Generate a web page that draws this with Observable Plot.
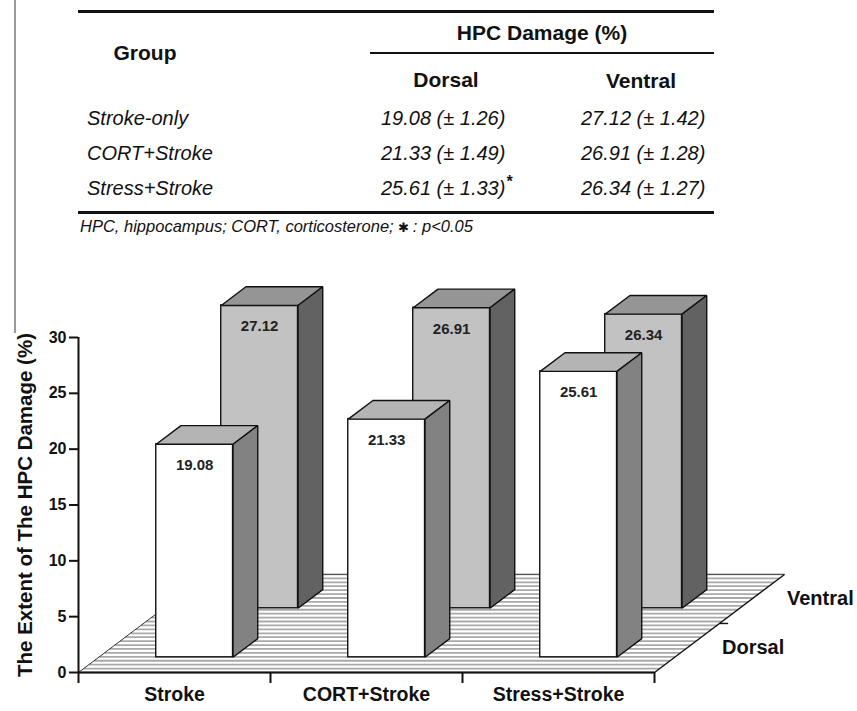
<!DOCTYPE html>
<html>
<head>
<meta charset="utf-8">
<script src="https://cdn.jsdelivr.net/npm/d3@7"></script>
<script src="https://cdn.jsdelivr.net/npm/@observablehq/plot@0.6"></script>
<style>
  body { margin: 0; background: #fff; font-family: "Liberation Sans", Arial, sans-serif; }
  #page { position: relative; width: 857px; height: 711px; overflow: hidden; }
  #table { position: relative; width: 857px; height: 250px; }
  #chart svg { display: block; }
  .t { position: absolute; white-space: nowrap; line-height: 1; color: #111; }
  .c { transform: translate(-50%, -50%); }
  .l { transform: translateY(-50%); }
  .head { font-weight: bold; font-size: 21px; }
  .cell { font-style: italic; font-size: 20px; }
  .note { font-style: italic; font-size: 16.5px; }
  .rule { position: absolute; background: #111; }
  #edge { position: absolute; left: 14px; top: 0; width: 2px; height: 333px; background: #9a9a9a; }
</style>
</head>
<body>
<div id="page">
  <div id="edge"></div>
  <div id="table"></div>
  <div id="chart"></div>
</div>
<script>
// Hippocampal (HPC) damage per group, mean (± SEM), in percent
const groups = ["Stroke", "CORT+Stroke", "Stress+Stroke"];
const tableGroups = ["Stroke-only", "CORT+Stroke", "Stress+Stroke"];
const regions = ["Dorsal", "Ventral"];
const dorsal = [19.08, 21.33, 25.61];
const dorsalSE = [1.26, 1.49, 1.33];
const ventral = [27.12, 26.91, 26.34];
const ventralSE = [1.42, 1.28, 1.27];
const dorsalSignificant = [false, false, true];
const ventralSignificant = [false, false, false];
const yTicks = [0, 5, 10, 15, 20, 25, 30];
const groupTicks = [0, 1, 2, 3];
const footnote = "HPC, hippocampus; CORT, corticosterone; ";
const footnoteSig = ": p<0.05";

// ---------- summary table ----------
const table = document.getElementById("table");
function put(text, x, y, cls, extra) {
  const el = document.createElement("div");
  el.className = "t " + cls;
  el.style.left = x + "px";
  el.style.top = y + "px";
  el.textContent = text;
  if (extra) el.appendChild(extra);
  table.appendChild(el);
  return el;
}
function rule(x, y, w, h) {
  const el = document.createElement("div");
  el.className = "rule";
  Object.assign(el.style, {left: x + "px", top: y + "px", width: w + "px", height: h + "px"});
  table.appendChild(el);
}
function star() {
  const s = document.createElement("span");
  s.textContent = "*";
  s.style.cssText = "font-weight:bold;font-style:normal;font-size:16px;position:relative;top:-8px;margin-left:1px;";
  return s;
}
const fmt = (v, se) => `${v.toFixed(2)} (± ${se.toFixed(2)})`;

rule(78, 10, 636, 3);
rule(370, 52, 344, 2);
rule(78, 211, 636, 3);
put("Group", 145, 52, "head c");
put("HPC Damage (%)", 542, 32, "head c");
put(regions[0], 446, 79, "head c");
put(regions[1], 641, 80, "head c");
const rowY = [118, 153, 188];
tableGroups.forEach((g, i) => {
  put(g, 87, rowY[i], "cell l");
  put(fmt(dorsal[i], dorsalSE[i]), 381, rowY[i], "cell l", dorsalSignificant[i] ? star() : null);
  put(fmt(ventral[i], ventralSE[i]), 581, rowY[i], "cell l", ventralSignificant[i] ? star() : null);
});
const sig = document.createElement("span");
sig.textContent = "✱ ";
sig.style.cssText = "font-style:normal;font-size:13px;";
const note = put(footnote, 80, 226, "note l", sig);
note.appendChild(document.createTextNode(footnoteSig));

// ---------- 3-D bar chart ----------
const DX = 0.677, DY = 8.78;      // floor depth vector (group units, % units)
const BAR_W = 0.4, BAR_D = 0.19;  // bar width (groups) and depth (fraction of floor)
const bdx = BAR_D * DX, bdy = BAR_D * DY;

const rows = [
  {name: "Ventral", values: ventral, zc: 0.75, front: "#c2c2c2", top: "#959595", side: "#626262"},
  {name: "Dorsal", values: dorsal, zc: 0.25, front: "#ffffff", top: "#b4b4b4", side: "#828282"}
];

function faces(row) {
  const z0 = row.zc - BAR_D / 2;
  const bars = row.values.map((v, i) => {
    const x1 = i + 0.5 - BAR_W / 2 + z0 * DX;
    const x2 = x1 + BAR_W;
    const base = z0 * DY;
    return {i, v, x1, x2, base, top: v + base};
  });
  const topPoly = bars.flatMap(b => [
    [b.x1, b.top], [b.x2, b.top], [b.x2 + bdx, b.top + bdy], [b.x1 + bdx, b.top + bdy], [b.x1, b.top]
  ].map(([x, y]) => ({id: b.i, x, y})));
  const sidePoly = bars.flatMap(b => [
    [b.x2, b.base], [b.x2 + bdx, b.base + bdy], [b.x2 + bdx, b.top + bdy], [b.x2, b.top], [b.x2, b.base]
  ].map(([x, y]) => ({id: b.i, x, y})));
  const poly = {x: "x", y: "y", z: "id", stroke: "#111", strokeWidth: 1.4, strokeLinejoin: "miter", strokeLinecap: "butt"};
  return [
    Plot.rect(bars, {x1: "x1", x2: "x2", y1: "base", y2: "top", fill: row.front, stroke: "#111", strokeWidth: 1.4}),
    Plot.line(topPoly, {...poly, fill: row.top}),
    Plot.line(sidePoly, {...poly, fill: row.side}),
    Plot.text(bars, {x: d => (d.x1 + d.x2) / 2, y: "top", dy: 21, text: d => d.v.toFixed(2), fontSize: 15, fill: "#222"})
  ];
}

const stripes = d3.range(0, 26).map(k => k / 25);
const nGroups = groups.length;

const chart = Plot.plot({
  width: 857,
  height: 461,
  marginLeft: 78,
  marginRight: 203,
  marginTop: 87,
  marginBottom: 39,
  x: {type: "linear", domain: [0, nGroups]},
  y: {type: "linear", domain: [0, 30]},
  style: {fontFamily: "'Liberation Sans', Arial, sans-serif", fontWeight: "bold", color: "#111", background: "transparent", overflow: "visible"},
  marks: [
    // hatched floor
    Plot.link(stripes, {x1: z => z * DX, x2: z => nGroups + z * DX, y1: z => z * DY, y2: z => z * DY, stroke: "#a9a9a9", strokeWidth: 1.8}),
    Plot.link([0], {x1: 0, y1: 0, x2: DX, y2: DY, stroke: "#333", strokeWidth: 1}),
    Plot.link([0], {x1: DX, y1: DY, x2: nGroups + DX, y2: DY, stroke: "#555", strokeWidth: 1}),
    Plot.link([0], {x1: nGroups, y1: 0, x2: nGroups + DX, y2: DY, stroke: "#111", strokeWidth: 1.4}),
    // depth axis tick and labels
    Plot.link([0.5], {x1: z => nGroups + z * DX, x2: z => nGroups + z * DX + 0.045, y1: z => z * DY, y2: z => z * DY, stroke: "#111", strokeWidth: 1.4}),
    Plot.text(rows, {x: r => nGroups + r.zc * DX, y: r => r.zc * DY, text: "name", dx: 35, textAnchor: "start", fontSize: 20}),
    // bars, back row first
    ...faces(rows[0]),
    ...faces(rows[1]),
    // axes
    Plot.ruleY([0], {x1: 0, x2: nGroups, strokeWidth: 2}),
    Plot.ruleX([0], {y1: 0, y2: 30, strokeWidth: 2}),
    Plot.axisY(yTicks, {tickSize: 9, tickPadding: 3, fontSize: 16, strokeWidth: 2, label: null}),
    Plot.axisX(groupTicks, {tickSize: 11, tickFormat: () => "", strokeWidth: 2, label: null}),
    Plot.text(groups, {x: (d, i) => i + 0.5, y: 0, dy: 22, fontSize: 19.5}),
    Plot.text(["The Extent of The HPC Damage (%)"], {frameAnchor: "left", textAnchor: "middle", rotate: -90, dx: -53, fontSize: 20.5})
  ]
});
document.getElementById("chart").appendChild(chart);
</script>
</body>
</html>
